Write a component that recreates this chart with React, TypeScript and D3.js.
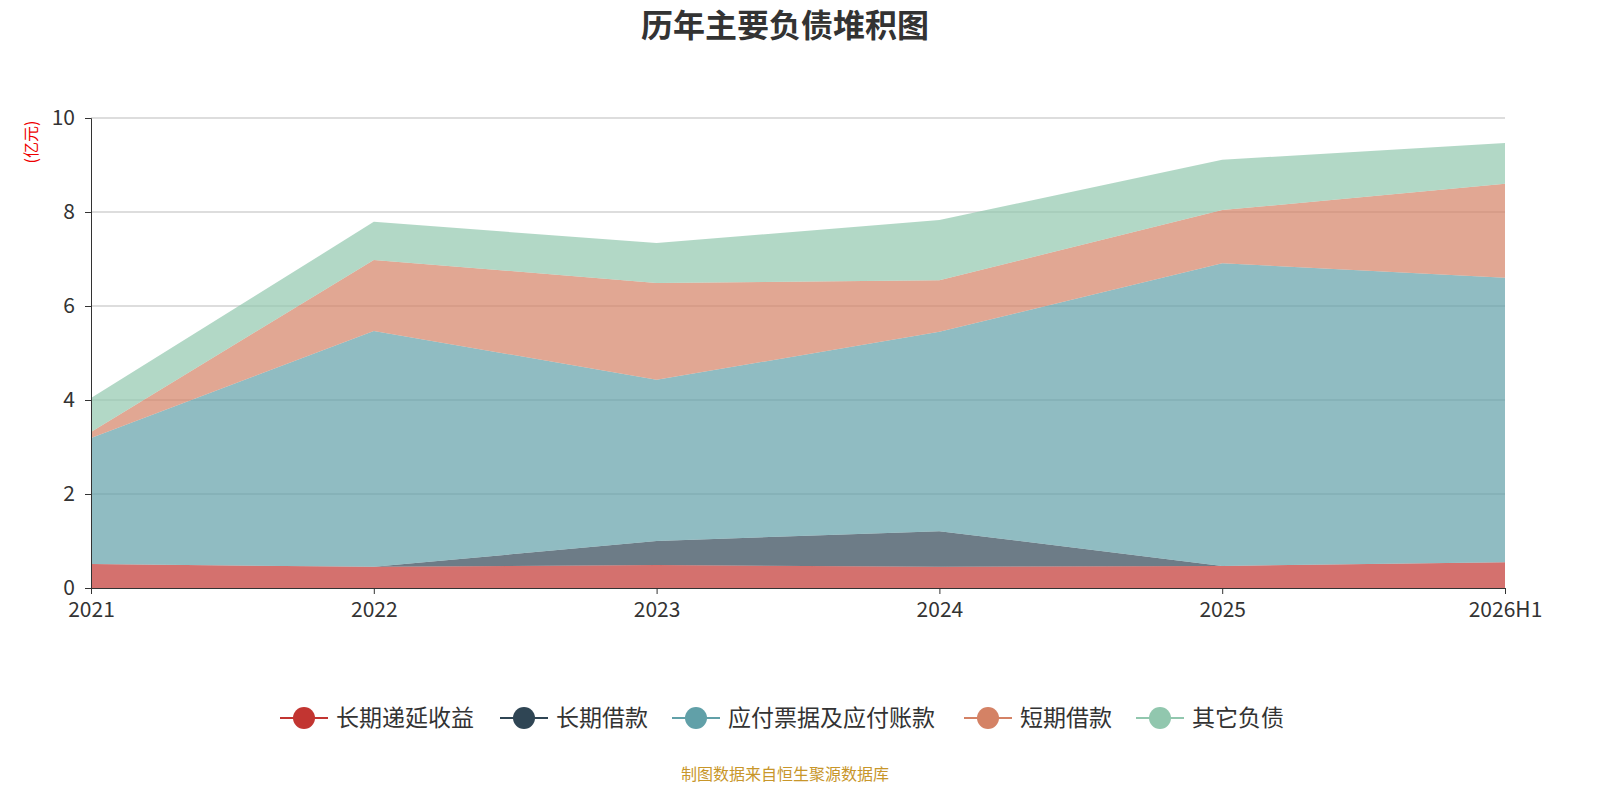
import { useEffect, useRef } from 'react';
import * as d3 from 'd3';

const categories = ['2021', '2022', '2023', '2024', '2025', '2026H1'];
const seriesNames = ['长期递延收益', '长期借款', '应付票据及应付账款', '短期借款', '其它负债'];
const deferredIncome = [0.51, 0.45, 0.49, 0.45, 0.47, 0.55];
const longLoans = [0, 0, 0.51, 0.76, 0, 0];
const payables = [2.68, 5.02, 3.43, 4.24, 6.44, 6.05];
const shortLoans = [0.13, 1.51, 2.06, 1.1, 1.13, 2.0];
const otherDebt = [0.72, 0.81, 0.85, 1.28, 1.07, 0.87];
const yTicks = [0, 2, 4, 6, 8, 10];
const colors = ['#c23531', '#2f4554', '#61a0a8', '#d48265', '#91c7ae'];

const W = 1600;
const H = 800;

export default function App() {
	const svgRef = useRef<SVGSVGElement>(null);

	useEffect(() => {
		if (!svgRef.current) return;
		const svg = d3.select(svgRef.current);
		svg.selectAll('*').remove();
		const font = '"Microsoft YaHei", "Noto Sans CJK SC", sans-serif';

		const x = d3.scalePoint<string>().domain(categories).range([91, 1505]);
		const y = d3.scaleLinear().domain([0, 10]).range([588, 118]);

		const rows = categories.map((c, i) => ({
			cat: c,
			s0: deferredIncome[i],
			s1: longLoans[i],
			s2: payables[i],
			s3: shortLoans[i],
			s4: otherDebt[i],
		}));
		const stack = d3.stack<any>().keys(['s0', 's1', 's2', 's3', 's4'])(rows);

		// grid
		svg.append('g')
			.selectAll('line')
			.data(yTicks.slice(1))
			.join('line')
			.attr('x1', 91)
			.attr('x2', 1505)
			.attr('y1', (d) => y(d))
			.attr('y2', (d) => y(d))
			.attr('stroke', '#bbb');

		const area = d3
			.area<any>()
			.x((d) => x(d.data.cat)!)
			.y0((d) => y(d[0]))
			.y1((d) => y(d[1]));

		svg.append('g')
			.selectAll('path')
			.data(stack)
			.join('path')
			.attr('d', area)
			.attr('fill', (_, i) => colors[i])
			.attr('fill-opacity', 0.7);

		// axes
		const yAxis = svg
			.append('g')
			.attr('transform', 'translate(91,0)')
			.call(d3.axisLeft(y).tickValues(yTicks).tickSize(6).tickPadding(10));
		const xAxis = svg
			.append('g')
			.attr('transform', 'translate(0,588)')
			.call(d3.axisBottom(x).tickSize(6).tickPadding(8));
		[yAxis, xAxis].forEach((a) => {
			a.selectAll('path,line').attr('stroke', '#333');
			a.selectAll('text')
				.attr('fill', '#333')
				.style('font-size', '21px')
				.style('font-family', font);
		});
		yAxis.selectAll('text').attr('dy', '0.3em');

		svg.append('text')
			.attr('x', W / 2 - 15)
			.attr('y', 37)
			.attr('text-anchor', 'middle')
			.style('font-size', '32px')
			.style('font-weight', 'bold')
			.style('font-family', font)
			.attr('fill', '#333')
			.text('历年主要负债堆积图');

		svg.append('text')
			.attr('transform', 'translate(37,142) rotate(-90)')
			.attr('text-anchor', 'middle')
			.style('font-size', '16px')
			.style('font-family', font)
			.attr('fill', '#e00')
			.text('(亿元)');

		// legend
		const widths = seriesNames.map((n) => 76 + n.length * 24);
		let lx = 280;
		seriesNames.forEach((n, i) => {
			const g = svg.append('g').attr('transform', `translate(${lx},718)`);
			g.append('line').attr('x1', 0).attr('x2', 48).attr('stroke', colors[i]).attr('stroke-width', 2);
			g.append('circle').attr('cx', 24).attr('r', 11).attr('fill', colors[i]);
			g.append('text')
				.attr('x', 56)
				.attr('dy', '0.35em')
				.style('font-size', '23px')
				.style('font-family', font)
				.attr('fill', '#333')
				.text(n);
			lx += widths[i];
		});

		svg.append('text')
			.attr('x', W / 2 - 15)
			.attr('y', 780)
			.attr('text-anchor', 'middle')
			.style('font-size', '16px')
			.style('font-family', font)
			.attr('fill', '#c8962a')
			.text('制图数据来自恒生聚源数据库');
	}, []);

	return (
		<svg
			ref={svgRef}
			width={W}
			height={H}
			style={{ position: 'absolute', top: 0, left: 0, background: '#fff' }}
		></svg>
	);
}
